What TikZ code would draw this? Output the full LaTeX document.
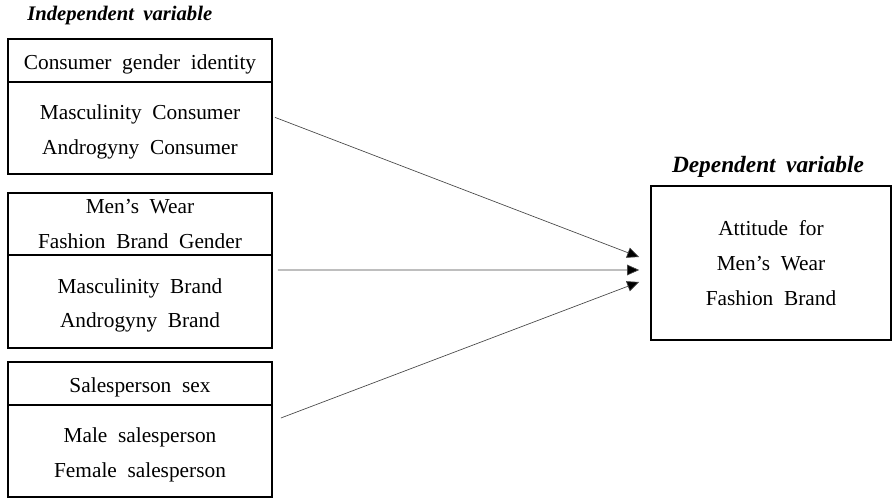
\documentclass[tikz,border=0pt]{standalone}
\usepackage{fontspec}
\setmainfont{Liberation Serif}
\usetikzlibrary{positioning,arrows.meta}

\newcommand{\widespace}[1]{\spaceskip=#1em\relax}
\newcommand{\lift}{\rule{0pt}{17pt}}

\tikzset{
  varbox/.style={draw,line width=1.3pt,minimum width=198pt,inner sep=0pt,align=center,
    font={\fontsize{16}{26}\selectfont\widespace{0.5}}},
  lowtext/.style={execute at begin node={\rule{0pt}{16.5pt}}},
  vartitle/.style={font={\fontsize{#1}{19}\selectfont\bfseries\itshape\widespace{0.45}},inner sep=0pt},
  link/.style={draw={rgb,255:red,70;green,70;blue,70},line width=0.5pt,-{Triangle[length=9pt,width=8pt,fill=black]}}
}

\begin{document}
\begin{tikzpicture}[x=0.75pt,y=0.75pt,yscale=-1,xscale=1]
\useasboundingbox (0,0) rectangle (892,499);

% Text Node
\node[vartitle=15.5,anchor=west] (indep) at (27,16) {Independent variable};

%Shape: Rectangle [id:cgi]
\node[varbox,lowtext,minimum height=32.25pt] (cgihead) at (140,60.5) {Consumer gender identity};
\node[varbox,minimum height=69pt,below=-1.3pt of cgihead] (cgibody) {\lift Masculinity Consumer\\Androgyny Consumer};

%Shape: Rectangle [id:fbg]
\node[varbox,minimum height=46.5pt] (fbghead) at (140,224) {Men’s Wear\\Fashion Brand Gender};
\node[varbox,minimum height=69.75pt,below=-1.3pt of fbghead] (fbgbody) {\lift Masculinity Brand\\Androgyny Brand};

%Shape: Rectangle [id:sps]
\node[varbox,lowtext,minimum height=32.25pt] (spshead) at (140,383.5) {Salesperson sex};
\node[varbox,minimum height=69pt,below=-1.3pt of spshead] (spsbody) {\lift Male salesperson\\Female salesperson};

% Text Node
\node[vartitle=17.5] (dep) at (768,167) {Dependent variable};

%Shape: Rectangle [id:att]
\node[varbox,minimum width=180pt,minimum height=115.5pt] (att) at (771,263) {Attitude for\\Men’s Wear\\Fashion Brand};

%Straight Lines
\coordinate (in1) at ([xshift=-8.25pt,yshift=-4.5pt]att.west);
\coordinate (in2) at ([xshift=-8.25pt,yshift=5.25pt]att.west);
\coordinate (in3) at ([xshift=-8.25pt,yshift=14.25pt]att.west);
\draw[link] ([xshift=1.5pt,yshift=-8pt]cgibody.east) -- (in1);
\draw[link] ([xshift=3.75pt,yshift=-23.6pt]fbgbody.east) -- (in2);
\draw[link] ([xshift=6pt,yshift=-24.75pt]spsbody.east) -- (in3);

\end{tikzpicture}
\end{document}
